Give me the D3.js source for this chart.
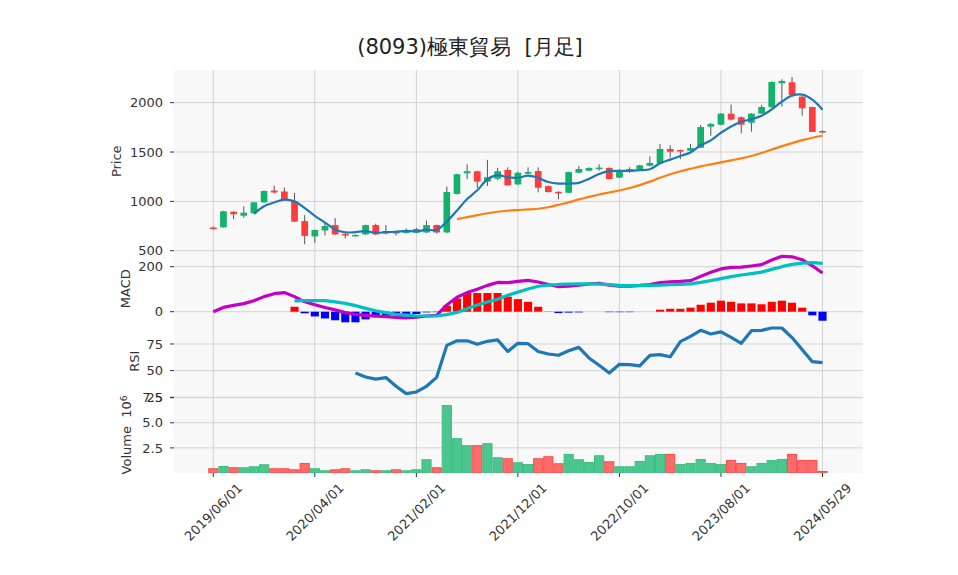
<!DOCTYPE html>
<html><head><meta charset="utf-8">
<script src="https://cdn.jsdelivr.net/npm/d3@7"></script>
<style>
body{margin:0;background:#fff;}
svg{display:block;}
text{font-family:"DejaVu Sans",sans-serif;white-space:pre;}
</style>
</head><body>
<svg id="c" width="958" height="575"></svg>
<script>
const title = "(8093)極東貿易  [月足]";
const dates = [
"2019/06/01","2019/07/01","2019/08/01","2019/09/01","2019/10/01","2019/11/01","2019/12/01",
"2020/01/01","2020/02/01","2020/03/01","2020/04/01","2020/05/01","2020/06/01","2020/07/01","2020/08/01","2020/09/01","2020/10/01","2020/11/01","2020/12/01",
"2021/01/01","2021/02/01","2021/03/01","2021/04/01","2021/05/01","2021/06/01","2021/07/01","2021/08/01","2021/09/01","2021/10/01","2021/11/01","2021/12/01",
"2022/01/01","2022/02/01","2022/03/01","2022/04/01","2022/05/01","2022/06/01","2022/07/01","2022/08/01","2022/09/01","2022/10/01","2022/11/01","2022/12/01",
"2023/01/01","2023/02/01","2023/03/01","2023/04/01","2023/05/01","2023/06/01","2023/07/01","2023/08/01","2023/09/01","2023/10/01","2023/11/01","2023/12/01",
"2024/01/01","2024/02/01","2024/03/01","2024/04/01","2024/05/01","2024/05/29"];

const open  = [735,737,895,855,880,990,1110,1100,1000,800,645,705,760,670,650,665,760,675,695,680,685,685,760,685,1075,1285,1305,1200,1230,1318,1172,1280,1307,1155,1097,1087,1290,1311,1332,1338,1240,1297,1328,1361,1385,1531,1520,1513,1544,1757,1777,1889,1852,1797,1889,1953,2197,2207,2061,1956,1713];
const high  = [745,905,900,950,995,1110,1160,1140,1085,860,715,785,830,675,665,765,775,760,705,725,730,805,765,1150,1280,1375,1310,1420,1340,1345,1300,1345,1345,1160,1100,1300,1358,1345,1375,1345,1325,1345,1370,1456,1581,1569,1525,1581,1774,1794,1895,1980,1860,1895,1975,2215,2237,2260,2065,1960,1720];
const low   = [715,735,820,835,875,985,1080,1010,790,565,580,655,660,625,645,660,660,665,655,675,680,680,675,680,1070,1225,1135,1155,1215,1160,1165,1275,1091,1090,1020,1085,1285,1305,1311,1225,1235,1290,1320,1355,1380,1444,1427,1505,1540,1666,1770,1820,1690,1706,1885,1950,1960,2075,1868,1703,1690];
const close = [725,900,870,885,990,1105,1090,1020,795,650,710,750,665,655,660,760,665,700,675,710,720,760,685,1095,1275,1305,1200,1245,1305,1162,1290,1297,1138,1094,1081,1297,1328,1338,1342,1226,1318,1328,1365,1389,1531,1503,1510,1541,1753,1784,1889,1828,1777,1889,1956,2210,2220,2078,1943,1703,1700];
// volume in millions
const volume = [0.42,0.65,0.52,0.52,0.62,0.82,0.42,0.42,0.32,0.95,0.42,0.22,0.32,0.42,0.22,0.32,0.22,0.22,0.32,0.22,0.32,1.32,0.52,6.72,3.42,2.72,2.72,2.92,1.52,1.42,1.02,0.85,1.42,1.62,0.92,1.85,1.32,1.05,1.72,1.12,0.62,0.62,1.15,1.72,1.85,1.85,0.85,0.95,1.35,0.95,0.85,1.25,0.95,0.62,0.95,1.25,1.35,1.85,1.25,1.25,0.15];
// 5-month moving average (from index 4)
const ma5 = [null,null,null,null,874,950,988,1018,1000,932,853,785,714,686,688,698,681,688,692,702,694,713,710,794,907,1024,1112,1224,1266,1243,1240,1260,1238,1196,1180,1181,1188,1228,1277,1306,1310,1310,1316,1325,1386,1423,1460,1495,1568,1618,1695,1759,1806,1833,1868,1932,2010,2071,2081,2031,1929];
// 25-month moving average (from index 24)
const ma25 = [null,null,null,null,null,null,null,null,null,null,null,null,null,null,null,null,null,null,null,null,null,null,null,null,820,840,860,880,895,905,912,918,925,940,965,990,1020,1045,1070,1090,1110,1135,1165,1200,1240,1275,1305,1330,1355,1375,1395,1415,1435,1460,1490,1525,1560,1590,1620,1645,1665];
const macd = [0,19,28,36,49,67,80,85,67,44,31,19,8,-4,-12,-16,-19,-22,-25,-27,-24,-19,-16,30,64,85,100,117,130,129,135,139,132,121,111,114,118,123,126,118,114,114,117,121,129,133,135,138,157,175,190,197,198,203,209,230,246,244,231,204,172];
const signal = [null,null,null,null,null,null,null,null,48,49,49,49,44,37,27,15,4,-4,-12,-15,-18,-19,-19,-13,-3,13,30,43,55,73,87,101,113,118,121,123,124,124,123,120,117,116,116,117,118,120,121,124,130,138,147,156,163,169,176,188,200,210,216,218,215];
const hist = [null,null,null,null,null,null,null,null,22,-7,-21,-30,-38,-47,-47,-34,-25,-18,-13,-10,-10,-3,-2,27,59,83,83,83,83,67,56,44,22,1,-6,-4,-3,0,0,-2,-2,-2,0,0,9,13,13,18,31,40,49,44,37,37,33,44,49,40,18,-16,-40];
const rsi = [null,null,null,null,null,null,null,null,null,null,null,null,null,null,47.8,44,42,43.5,35.3,28.4,30,35.3,43.7,73.7,78,78,74.7,77.5,78.8,68,75.6,75.3,68,65.6,64.4,68.7,71.8,61.9,55,47.8,55.9,55.6,54.4,64.4,65,63,77.2,82.2,87.8,84.4,86.3,81.2,75.6,87.5,87.8,90,90,81,69.7,58.4,57.5];

const priceTicks = [500,1000,1500,2000];
const macdTicks = [0,200];
const rsiTicks = [25,50,75];
const volTicks = [2.5,5.0,7.5];
const xTickIdx = [0,10,20,30,40,50,60];

const svg = d3.select("#c");
const L = 174, R = 862.5;
const x = d3.scaleLinear().domain([-3.87, 63.94]).range([L, R]);
const step = x(1) - x(0);

const panels = {
  price: {y0:70, y1:252.5, scale: d3.scaleLinear().domain([482, 2331]).range([252.5, 70]), ticks: priceTicks, fmt: d=>String(d), label:"Price", lx:116},
  macd:  {y0:252.5, y1:325, scale: d3.scaleLinear().domain([-59, 263]).range([325, 252.5]), ticks: macdTicks, fmt: d=>String(d), label:"MACD", lx:125},
  rsi:   {y0:325, y1:397.5, scale: d3.scaleLinear().domain([24.8, 92.8]).range([397.5, 325]), ticks: rsiTicks, fmt: d=>String(d), label:"RSI", lx:134},
  vol:   {y0:397.5, y1:473, scale: d3.scaleLinear().domain([0, 7.52]).range([473, 397.5]), ticks: volTicks, fmt: d=>d.toFixed(1), label:null, lx:126}
};

const gridC = "#d2d2d2";
Object.entries(panels).forEach(([k,p])=>{
  const g = svg.append("g");
  g.append("rect").attr("x",L).attr("y",p.y0).attr("width",R-L).attr("height",p.y1-p.y0).attr("fill","#f8f8f8");
  g.selectAll(".vg").data(xTickIdx).enter().append("line")
    .attr("x1",d=>x(d)).attr("x2",d=>x(d)).attr("y1",p.y0).attr("y2",p.y1)
    .attr("stroke",gridC).attr("stroke-width",1);
  g.selectAll(".hg").data(p.ticks).enter().append("line")
    .attr("x1",L).attr("x2",R).attr("y1",d=>p.scale(d)).attr("y2",d=>p.scale(d))
    .attr("stroke",gridC).attr("stroke-width",1);
  g.selectAll(".tk").data(p.ticks).enter().append("line")
    .attr("x1",L-4).attr("x2",L).attr("y1",d=>p.scale(d)).attr("y2",d=>p.scale(d))
    .attr("stroke","#333").attr("stroke-width",1);
  g.selectAll(".tl").data(p.ticks).enter().append("text")
    .attr("x",L-11).attr("y",d=>p.scale(d)).attr("dy","0.36em")
    .attr("text-anchor","end").attr("font-size",13).attr("fill","#333")
    .text(p.fmt);
  svg.append("clipPath").attr("id","clip-"+k).append("rect")
    .attr("x",L).attr("y",p.y0).attr("width",R-L).attr("height",p.y1-p.y0);
  if (p.label) {
    svg.append("text").attr("transform",`translate(${p.lx},${(p.y0+p.y1)/2}) rotate(-90)`)
      .attr("text-anchor","middle").attr("dy","0.36em").attr("font-size",13).attr("fill","#333").text(p.label);
  }
});
// volume label with 10^6
const vl = svg.append("text").attr("transform",`translate(126,435) rotate(-90)`)
  .attr("text-anchor","middle").attr("dy","0.36em").attr("font-size",13).attr("fill","#333");
vl.append("tspan").text("Volume  10");
vl.append("tspan").attr("dy","-0.45em").attr("font-size",9).text("6");

const idx = d3.range(dates.length);
const GREEN = "#12b26b", RED = "#ff3b3b";

// ---- price panel ----
const py = panels.price.scale;
const pg = svg.append("g").attr("clip-path","url(#clip-price)");
pg.selectAll(".wick").data(idx).enter().append("line")
  .attr("x1",i=>x(i)).attr("x2",i=>x(i)).attr("y1",i=>py(high[i])).attr("y2",i=>py(low[i]))
  .attr("stroke","#555").attr("stroke-width",1);
const bw = step*0.66;
pg.selectAll(".body").data(idx).enter().append("rect")
  .attr("x",i=>x(i)-bw/2).attr("width",bw)
  .attr("y",i=>py(Math.max(open[i],close[i])))
  .attr("height",i=>Math.max(1.5, Math.abs(py(open[i])-py(close[i]))))
  .attr("fill",i=>close[i]>=open[i]?GREEN:RED);
const lineP = d3.line().defined(d=>d[1]!=null).x(d=>x(d[0])).y(d=>py(d[1])).curve(d3.curveCatmullRom);
pg.append("path").datum(idx.map(i=>[i,ma25[i]])).attr("d",lineP)
  .attr("fill","none").attr("stroke","#ff7f0e").attr("stroke-width",2.2);
pg.append("path").datum(idx.map(i=>[i,ma5[i]])).attr("d",lineP)
  .attr("fill","none").attr("stroke","#1f77b4").attr("stroke-width",2.2);

// ---- MACD panel ----
const my = panels.macd.scale;
const mg = svg.append("g").attr("clip-path","url(#clip-macd)");
const hb = step*0.8;
mg.selectAll(".hb").data(idx.filter(i=>hist[i]!=null)).enter().append("rect")
  .attr("x",i=>x(i)-hb/2).attr("width",hb)
  .attr("y",i=>my(Math.max(0,hist[i]))).attr("height",i=>Math.abs(my(hist[i])-my(0)))
  .attr("fill",i=>hist[i]>=0?"#ff0000":"#0000ff");
const lineM = d3.line().defined(d=>d[1]!=null).x(d=>x(d[0])).y(d=>my(d[1]));
mg.append("path").datum(idx.map(i=>[i,macd[i]])).attr("d",lineM)
  .attr("fill","none").attr("stroke","#c400c4").attr("stroke-width",3.2).attr("stroke-linejoin","round");
mg.append("path").datum(idx.map(i=>[i,signal[i]])).attr("d",lineM)
  .attr("fill","none").attr("stroke","#00c0c0").attr("stroke-width",3.2).attr("stroke-linejoin","round");

// ---- RSI panel ----
const ry = panels.rsi.scale;
const rg = svg.append("g").attr("clip-path","url(#clip-rsi)");
rg.append("path").datum(idx.map(i=>[i,rsi[i]]))
  .attr("d",d3.line().defined(d=>d[1]!=null).x(d=>x(d[0])).y(d=>ry(d[1])))
  .attr("fill","none").attr("stroke","#1f77b4").attr("stroke-width",3.2).attr("stroke-linejoin","round");

// ---- Volume panel ----
const vy = panels.vol.scale;
const vg = svg.append("g").attr("clip-path","url(#clip-vol)");
const up = i => i===0 ? close[i]>=open[i] : close[i]>=close[i-1];
vg.selectAll(".vb").data(idx).enter().append("rect")
  .attr("x",i=>x(i)-step/2+0.5).attr("width",step-1)
  .attr("y",i=>vy(volume[i])).attr("height",i=>vy(0)-vy(volume[i]))
  .attr("fill",i=>up(i)?"#4cc68f":"#ff6b6b")
  .attr("stroke",i=>up(i)?"#3dbd82":"#ff4a4a").attr("stroke-width",1);

// ---- x axis ----
svg.selectAll(".xt").data(xTickIdx).enter().append("line")
  .attr("x1",i=>x(i)).attr("x2",i=>x(i)).attr("y1",473).attr("y2",477)
  .attr("stroke","#333");
svg.selectAll(".xl").data(xTickIdx).enter().append("text")
  .attr("transform",i=>`translate(${x(i)},${512}) rotate(-45)`)
  .attr("text-anchor","middle").attr("dy","0.36em").attr("font-size",13).attr("fill","#333")
  .text(i=>dates[i]);

// ---- title ----
svg.append("text").attr("x",470).attr("y",54).attr("text-anchor","middle")
  .attr("font-family","'Noto Sans CJK JP',sans-serif").attr("font-size",21).attr("fill","#222")
  .text(title);
</script>
</body></html>
